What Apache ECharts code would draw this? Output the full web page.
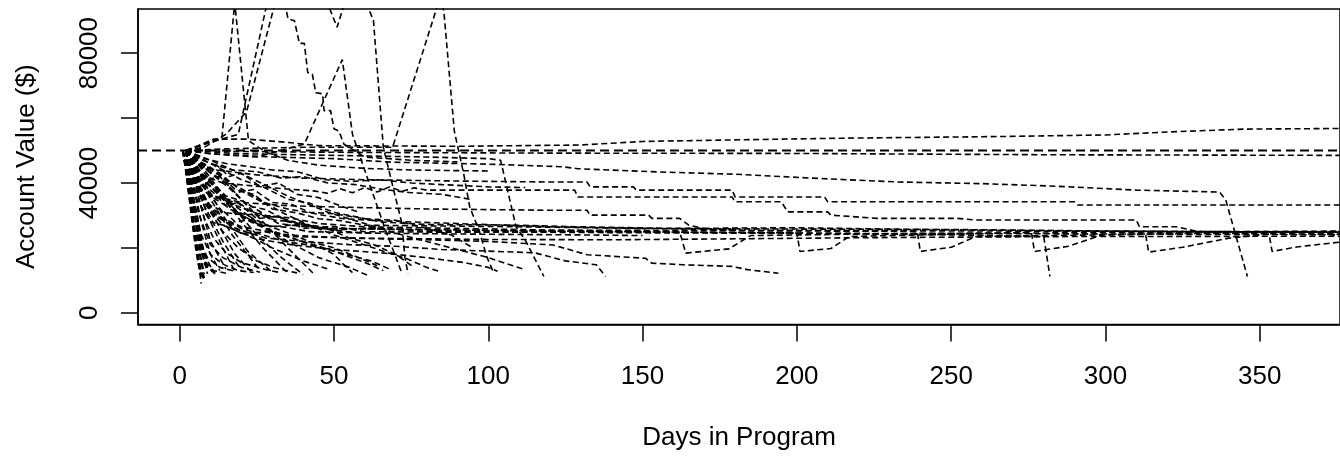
<!DOCTYPE html>
<html>
<head>
<meta charset="utf-8">
<script src="https://cdn.jsdelivr.net/npm/echarts@6/dist/echarts.min.js"></script>
<style>
  html, body { margin: 0; padding: 0; background: #fff; }
  #chart { width: 1340px; height: 459px; }
</style>
</head>
<body>
<div id="chart"></div>
<script>
// axis ticks
var xTicks = [0, 50, 100, 150, 200, 250, 300, 350];
var yTicks = [0, 20000, 40000, 60000, 80000];
var yLabels = [0, 40000, 80000];
var refLevel = 50000;

// accounts, [day, value]

// long lived ones
var acctTop = [[2,50000],[6,51500],[11,53500],[22,53500],[35,52500],[45,51500],[90,51300],[130,51700],[150,52800],[175,53200],[215,53800],[265,54300],[300,54800],[320,55700],[345,56600],[378,56800]];
var acctFlat = [[2,50000],[20,49700],[60,49400],[120,49200],[200,49100],[280,48700],[378,48500]];
var acctSlide = [[2,50000],[10,49000],[30,48000],[50,47500],[69,46400],[100,45800],[124,45000],[129,44400],[155,43400],[180,42700],[207,41400],[233,40300],[260,39800],[284,39000],[310,37800],[337,37200],[339,34700],[346,11200]];
var acctStepA = [[2,50000],[5,46000],[12,44000],[25,42500],[40,41500],[60,41000],[90,40600],[120,40300],[132,40300],[133,38800],[147,38800],[148,37800],[179,37800],[180,35700],[209,35700],[210,34200],[290,34200],[291,33200],[378,33200]];
var acctStepB = [[2,50000],[6,43000],[14,40000],[30,38500],[44,37500],[48,36800],[52,38200],[56,37000],[60,38600],[64,37200],[68,38800],[72,37400],[76,38500],[80,37800],[128,37800],[129,35700],[179,35700],[180,34200],[195,34200],[197,31100],[210,31100],[211,30100],[226,29100],[252,29100],[258,28600],[310,28600],[311,26500],[323,26500],[330,25000],[378,24800]];
var acctStepC = [[2,50000],[5,41000],[11,36000],[20,34000],[35,33000],[55,32500],[80,32000],[120,31600],[132,31600],[133,30100],[152,30100],[153,29100],[162,29100],[165,27000],[172,25500],[220,25300],[300,25100],[378,25000]];

// the band near 25000
var band1 = [[2,50000],[5,40000],[10,33000],[14,31500],[18,28000],[24,28800],[30,26500],[38,27200],[50,25500],[62,26200],[80,25000],[120,24800],[160,24600],[200,24500],[250,24400],[300,24300],[340,24200],[378,24000]];
var band2 = [[2,50000],[7,42000],[11,39500],[14,35000],[19,33800],[25,29000],[32,29800],[40,26000],[50,26600],[60,25000],[90,24800],[130,25200],[162,25000],[164,18400],[178,19700],[185,23800],[240,24500],[280,24600],[320,24800],[378,24600]];
var band3 = [[2,50000],[4,45000],[10,36000],[15,34500],[20,30000],[26,30600],[32,27500],[45,26000],[70,25800],[100,25400],[140,25000],[200,24600],[201,18900],[211,19800],[217,23500],[276,24800],[277,18900],[288,20500],[299,24000],[330,24500],[378,24200]];
var band4 = [[2,50000],[6,44000],[15,36000],[21,34200],[28,30000],[36,29200],[45,27500],[60,26500],[90,26000],[120,25500],[170,25300],[239,25100],[240,18900],[250,20200],[258,23500],[313,24200],[314,18700],[325,20200],[340,23000],[353,24300],[354,18900],[362,20300],[378,22000]];
var band5 = [[2,50000],[8,45000],[13,42500],[18,38000],[24,36500],[30,32000],[38,30800],[45,29000],[52,28400],[60,27000],[80,26800],[110,26500],[150,26000],[200,25800],[260,25600],[300,25200],[340,25000],[378,24800]];
var band6 = [[2,50000],[5,36000],[10,28000],[15,26800],[20,24500],[28,24900],[35,23500],[60,23000],[100,22600],[140,22500],[180,22800],[230,23200],[290,23500],[378,23600]];
var band7 = [[2,50000],[6,41000],[14,31000],[20,30200],[26,27000],[34,26400],[42,25000],[65,24500],[100,24200],[130,24000],[150,23800]];
var band8 = [[2,50000],[10,43000],[16,38500],[22,33000],[28,31800],[35,28000],[50,26000],[80,25500],[130,25000],[200,24600],[250,24000],[280,23500],[282,11200]];
var band9 = [[2,50000],[8,47000],[20,41000],[27,38800],[35,35000],[42,33800],[50,31000],[65,28000],[80,27200],[110,27000],[130,26500],[160,26000],[200,26200],[230,25800],[280,25300],[330,24900],[378,25200]];

// the ones that shoot up
var spike1 = [[2,50000],[8,52000],[13.7,54000],[17.85,95500],[22.3,53000],[28,49500],[35,47000],[45,45500],[60,44500],[75,44000],[90,43800],[100,43700]];
var spike2 = [[2,50000],[10,52500],[19,55000],[31,107000],[34.6,93000],[35.1,90600],[37.2,90000],[38.8,83000],[40.4,83000],[41.5,74000],[43,73500],[44.1,67800],[46.3,67500],[46.8,62300],[48.9,62300],[50,56700],[51.6,56000],[53.2,52000],[60,48000],[75,47000],[90,46500]];
var spike3 = [[2,50000],[8,51000],[15,55000],[21.7,62000],[33,103000],[46,100000],[51,88000],[55,100000],[59,99000],[62.8,90000],[66,51000],[69.9,35700],[72,27600],[73,17000],[74,12000]];
var spike4 = [[2,50000],[10,49000],[25,48000],[40.4,52000],[52.7,78000],[56,55000],[61.4,40000],[66.7,25500],[72,12200]];
var spike5 = [[2,50000],[15,50500],[40,51000],[69,51000],[83,93000],[84.3,97000],[85.6,93000],[89,56000],[92,43000],[94,32600],[97,25500],[99.5,17300],[101.6,12700]];

// medium
var mid1 = [[2,50000],[8,42000],[15,35000],[25,28000],[35,22000],[45,17000],[55,14000],[61,11500]];
var mid2 = [[2,50000],[20,49000],[50,48500],[80,48000],[100,47500],[104,47000],[109,26500],[112,22400],[118,11200]];
var mid3 = [[2,50000],[6,38000],[12,30000],[20,25000],[30,20000],[40,16000],[48,13500]];
var mid4 = [[2,50000],[9,40000],[18,31000],[28,26000],[38,22500],[50,19000],[60,15500],[66,13000]];
var mid5 = [[2,50000],[5,45000],[10,39000],[16,33000],[22,28500],[30,25000],[38,22500],[45,20500],[50,18000],[53,15000],[56,12400]];
var mid6 = [[2,50000],[7,46000],[15,41000],[24,36000],[33,31000],[42,27000],[50,24000],[58,21500],[66,19000],[74,16500],[80,14000],[84,12800]];
var mid7 = [[2,50000],[10,47000],[22,42000],[35,36000],[48,31000],[60,27500],[70,24500],[80,22000],[90,19500],[100,17000],[108,14500],[112,13300]];
var low1 = [[2,50000],[5,40000],[10,31000],[18,26000],[28,23000],[40,22000],[55,21000],[70,20500],[85,19500],[100,19000],[115,18500],[125,16000],[135,14800],[138,11200]];
var low2 = [[2,50000],[6,38000],[12,30000],[20,26500],[35,24000],[55,23000],[80,22500],[100,22000],[121,20900],[132,17900],[151,16800],[153,15300],[163,14800],[179,14300],[184,13300],[194,12200]];
var low3 = [[2,50000],[7,35000],[14,27000],[24,23000],[36,21000],[50,19500],[65,18500],[80,17000],[92,15500],[100,14000],[103,12800]];

// jittery early ones
var jit1 = [[2,50000],[4,47000],[8,44000],[12,45500],[16,42000],[20,43000],[26,39000],[32,40000],[38,36500],[45,35500],[52,33000],[58,31000]];
var jit2 = [[2,50000],[5,44000],[9,41000],[13,42000],[18,37000],[24,38000],[30,34000],[36,33500],[42,31000],[50,30500],[60,29000],[70,28500],[80,26000],[88,24000],[95,20000]];
var jit3 = [[2,50000],[6,39000],[10,36000],[15,33000],[19,34000],[25,30000],[32,29500],[40,27000],[48,26000],[55,23000],[63,21000],[70,18000],[76,14000]];
var jit4 = [[2,50000],[3,46000],[7,40000],[11,37000],[16,32000],[22,30000],[28,27000],[34,25000],[42,22000],[50,20000],[58,17000],[64,14500]];
var jit5 = [[2,50000],[5,48000],[10,46000],[17,44000],[25,43500],[33,41500],[40,42000],[48,40000],[57,39500],[66,38000],[75,37000],[85,36500],[94,35000]];
var jit6 = [[2,50000],[8,47500],[15,46000],[23,45000],[30,44000],[38,43500],[47,41000],[56,40500],[65,41000],[75,40000],[85,39500],[100,38800],[112,38600]];
var jit7 = [[2,50000],[6,42000],[11,38000],[17,33500],[24,31000],[31,28500],[38,28000],[46,26000],[54,25000],[62,24500]];
var jit8 = [[2,50000],[4,43000],[9,34000],[14,29000],[20,26000],[27,24000],[34,22000],[41,21000],[48,19500],[56,17500],[62,16000],[68,13500]];
var jit9 = [[2,50000],[6,47000],[13,43000],[20,37500],[27,34000],[35,32000],[44,30500],[53,29000],[62,28500],[75,28000],[90,27500],[105,27000],[120,26500],[150,26000],[180,25600]];

// the wedge of quick losers
var fast1 = [[1,50000],[4,30000],[7,9000]];
var fast2 = [[1,50000],[3,38000],[5,25000],[8,10500]];
var fast3 = [[1,50000],[4,35000],[7,20000],[9,12000]];
var fast4 = [[2,50000],[5,33000],[8,18000],[11,12500]];
var fast5 = [[2,50000],[4,42000],[7,28000],[10,18000],[13,13000]];
var fast6 = [[2,50000],[6,36000],[10,22000],[15,13500]];
var fast7 = [[2,50000],[5,41000],[9,30000],[14,20000],[18,12500]];
var fast8 = [[1,50000],[3,45000],[8,33000],[14,22000],[20,13000]];
var fast9 = [[2,50000],[6,40000],[12,28000],[18,18000],[23,12800]];
var fast10 = [[2,50000],[4,46000],[10,35000],[17,24000],[26,13000]];
var fast11 = [[2,50000],[7,42000],[14,30000],[22,19000],[30,12500]];
var fast12 = [[2,50000],[5,47000],[12,38000],[20,28000],[27,20000],[35,12200]];
var fast13 = [[2,50000],[8,44000],[16,34000],[25,24000],[33,17000],[40,11800]];
var fast14 = [[2,50000],[6,46000],[15,40000],[25,30000],[35,20000],[44,11500]];
var fast15 = [[1,50000],[3,41000],[6,26000],[9,14000]];
var fast16 = [[1,50000],[2,44000],[5,22000],[7,11000]];
var fast17 = [[2,50000],[3,40000],[6,16000],[8,9500]];
var fast18 = [[2,50000],[5,30000],[8,15000],[12,11500]];
var fast19 = [[1,50000],[2,46000],[3,39000],[4,32000],[5,25000],[6,18000],[7,12500],[8,10000]];
var fast20 = [[1,50000],[2,44000],[3,36000],[4,28000],[5,21000],[6,15000],[7,11500]];
var fast21 = [[1,50000],[2,47000],[3,42000],[4,36000],[5,30000],[6,24000],[7,19000],[9,14000],[12,12000]];
var fast22 = [[1,50000],[2,45500],[3,40000],[4,34000],[5,29000],[6,22000],[8,16000],[11,13000],[15,12200]];
var fast23 = [[2,50000],[3,44000],[4,38000],[5,31000],[6,26000],[7,21000],[9,17000],[13,14000],[18,12800]];
var fast24 = [[2,50000],[3,47000],[4,41000],[5,37000],[6,31000],[8,26000],[10,21000],[14,17000],[20,14000],[26,12500]];
var fast25 = [[2,50000],[3,43000],[4,37000],[5,30000],[6,23000],[7,16500],[8,12000]];
var fast26 = [[1,50000],[3,43000],[5,33000],[7,24000],[10,18000],[14,15000],[19,13000],[24,12400]];
var fast27 = [[2,50000],[4,44000],[6,36000],[8,29000],[11,23000],[15,18500],[20,15500],[28,13300],[32,12500]];
var fast28 = [[2,50000],[3,48000],[5,43000],[7,38000],[10,31000],[14,25000],[19,20000],[25,16000],[31,13800],[38,12300]];

var accounts = [acctTop, acctFlat, acctSlide, acctStepA, acctStepB, acctStepC,
    band1, band2, band3, band4, band5, band6, band7, band8, band9,
    spike1, spike2, spike3, spike4, spike5,
    mid1, mid2, mid3, mid4, mid5, mid6, mid7, low1, low2, low3,
    jit1, jit2, jit3, jit4, jit5, jit6, jit7, jit8, jit9,
    fast1, fast2, fast3, fast4, fast5, fast6, fast7, fast8, fast9, fast10,
    fast11, fast12, fast13, fast14, fast15, fast16, fast17, fast18, fast19, fast20,
    fast21, fast22, fast23, fast24, fast25, fast26, fast27, fast28];

var xMin = -13.5, xMax = 376;
var yMin = -3600, yMax = 93600;
var fontFam = '"Liberation Sans", Arial, Helvetica, sans-serif';

var chart = echarts.init(document.getElementById('chart'));

var series = [];
accounts.forEach(function (a) {
    series.push({
        type: 'line',
        data: a,
        symbol: 'none',
        silent: true,
        lineStyle: { color: '#000', width: 1.6, type: [6, 3.5] }
    });
});
// horizontal reference at the starting balance
series.push({
    type: 'line',
    data: [[xMin, refLevel], [xMax, refLevel]],
    symbol: 'none',
    silent: true,
    lineStyle: { color: '#000', width: 2.2, type: [9, 5] }
});

chart.setOption({
    animation: false,
    backgroundColor: '#fff',
    grid: {
        left: 138, top: 9, bottom: 134.5, right: -24,
        show: true, borderColor: '#000', borderWidth: 1.5
    },
    xAxis: {
        type: 'value', min: xMin, max: xMax,
        axisLine: { show: true, onZero: false, lineStyle: { color: '#000', width: 1.5 } },
        axisTick: { show: true, customValues: xTicks, length: 17, lineStyle: { color: '#000', width: 1.5 } },
        axisLabel: { customValues: xTicks, margin: 39, fontSize: 26, color: '#000', fontFamily: fontFam },
        splitLine: { show: false },
        name: 'Days in Program', nameLocation: 'middle', nameGap: 100,
        nameTextStyle: { fontSize: 26, color: '#000', fontFamily: fontFam }
    },
    yAxis: {
        type: 'value', min: yMin, max: yMax,
        axisLine: { show: true, onZero: false, lineStyle: { color: '#000', width: 1.5 } },
        axisTick: { show: true, customValues: yTicks, length: 17, lineStyle: { color: '#000', width: 1.5 } },
        axisLabel: {
            customValues: yLabels, rotate: 90, margin: 35, fontSize: 26, color: '#000', fontFamily: fontFam,
            formatter: function (v) { return String(v); }
        },
        splitLine: { show: false },
        name: 'Account Value ($)', nameLocation: 'middle', nameGap: 98,
        nameTextStyle: { fontSize: 26, color: '#000', fontFamily: fontFam }
    },
    series: series
});
</script>
</body>
</html>
